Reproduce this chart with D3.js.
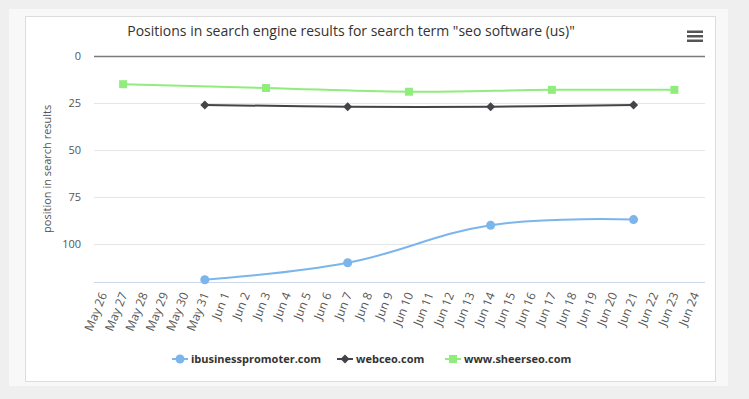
<!DOCTYPE html>
<html>
<head>
<meta charset="utf-8">
<script src="https://cdn.jsdelivr.net/npm/d3@7"></script>
<style>
  body { margin: 0; background: #efefef; }
  svg { display: block; font-family: "Open Sans", sans-serif; }
</style>
</head>
<body>
<div id="chart"></div>
<script>
// Variables
const width = 749;
const height = 399;

const chartTitle = 'Positions in search engine results for search term "seo software (us)"';
const yAxisLabel = 'position in search results';

// Data
const dates = ['May 26', 'May 27', 'May 28', 'May 29', 'May 30', 'May 31',
  'Jun 1', 'Jun 2', 'Jun 3', 'Jun 4', 'Jun 5', 'Jun 6', 'Jun 7', 'Jun 8', 'Jun 9',
  'Jun 10', 'Jun 11', 'Jun 12', 'Jun 13', 'Jun 14', 'Jun 15', 'Jun 16', 'Jun 17',
  'Jun 18', 'Jun 19', 'Jun 20', 'Jun 21', 'Jun 22', 'Jun 23', 'Jun 24'];
const yTicks = [0, 25, 50, 75, 100];

const ibpDates = ['May 31', 'Jun 7', 'Jun 14', 'Jun 21'];
const ibpValues = [119, 110, 90, 87];

const webceoDates = ['May 31', 'Jun 7', 'Jun 14', 'Jun 21'];
const webceoValues = [26, 27, 27, 26];

const sheerDates = ['May 27', 'Jun 3', 'Jun 10', 'Jun 17', 'Jun 23'];
const sheerValues = [15, 17, 19, 18, 18];

const series = [
  { name: 'ibusinesspromoter.com', color: '#7cb5ec', symbol: 'circle', dates: ibpDates, values: ibpValues },
  { name: 'webceo.com', color: '#434348', symbol: 'diamond', dates: webceoDates, values: webceoValues },
  { name: 'www.sheerseo.com', color: '#90ed7d', symbol: 'square', dates: sheerDates, values: sheerValues }
];

const plot = { left: 92.5, right: 705, top: 56, bottom: 281.6 };

const svg = d3.select('#chart')
  .append('svg')
    .attr('width', width)
    .attr('height', height);

// Panels
svg.append('rect')
  .attr('x', 9).attr('y', 9).attr('width', 719).attr('height', 377)
  .attr('fill', '#f8f8f8');
svg.append('rect')
  .attr('x', 25.5).attr('y', 16.5).attr('width', 690).attr('height', 365)
  .attr('fill', '#fff').attr('stroke', '#dcdcdc');

// Scales
const xScale = d3.scalePoint()
  .domain(dates)
  .range([plot.left, plot.right])
  .padding(0.5);

const yScale = d3.scaleLinear()
  .domain([0, 120])
  .range([plot.top, plot.bottom]);

// Title
svg.append('text')
  .attr('x', 351)
  .attr('y', 36)
  .attr('text-anchor', 'middle')
  .attr('font-size', 14)
  .attr('fill', '#333')
  .text(chartTitle);

// Menu icon
svg.append('g').selectAll('rect').data([0, 1, 2]).enter().append('rect')
  .attr('x', 687).attr('y', d => 30.5 + d * 4.5)
  .attr('width', 16).attr('height', 2.5)
  .attr('fill', '#555');

// Grid lines
const grid = svg.append('g');
grid.selectAll('line').data(yTicks).enter().append('line')
  .attr('x1', 94).attr('x2', plot.right)
  .attr('y1', d => Math.round(yScale(d)) + 0.5)
  .attr('y2', d => Math.round(yScale(d)) + 0.5)
  .attr('stroke', d => d === 0 ? '#7a7a7a' : '#e6e6e6')
  .attr('stroke-width', d => d === 0 ? 1.5 : 1);

// Y axis
const yAxis = d3.axisLeft(yScale).tickValues(yTicks).tickSize(0).tickPadding(0);
const yAxisGroup = svg.append('g')
  .attr('transform', 'translate(81, 0)')
  .call(yAxis);
yAxisGroup.select('.domain').remove();
yAxisGroup.selectAll('text')
  .attr('font-size', 11)
  .attr('font-family', '"Open Sans", sans-serif')
  .attr('fill', '#555');

svg.append('text')
  .attr('transform', `translate(51, ${(plot.top + plot.bottom) / 2}) rotate(-90)`)
  .attr('text-anchor', 'middle')
  .attr('font-size', 11)
  .attr('fill', '#555')
  .text(yAxisLabel);

// X axis
const xAxis = d3.axisBottom(xScale).tickSize(0).tickPadding(0);
const xAxisGroup = svg.append('g')
  .attr('transform', `translate(0, ${Math.round(plot.bottom) + 0.5})`)
  .call(xAxis);
xAxisGroup.select('.domain')
  .attr('d', `M94,0H${plot.right}`)
  .attr('stroke', '#ccd6eb');
xAxisGroup.selectAll('text')
  .attr('font-size', 12)
  .attr('font-family', '"Open Sans", sans-serif')
  .attr('fill', '#555')
  .attr('text-anchor', 'end')
  .attr('dy', 0)
  .attr('transform', 'translate(4, 12) rotate(-68)');

// Lines
const lineGen = d3.line()
  .x(d => xScale(d.date))
  .y(d => yScale(d.value))
  .curve(d3.curveCardinal.tension(-0.2));

const symbolPath = symbol => {
  if (symbol === 'circle') return d3.symbol(d3.symbolCircle, Math.PI * 4.5 * 4.5)();
  if (symbol === 'diamond') return 'M0,-4.5L4.5,0L0,4.5L-4.5,0Z';
  return 'M-4,-4H4V4H-4Z';
};

series.forEach(s => {
  const pts = s.dates.map((d, i) => ({ date: d, value: s.values[i] }));
  svg.append('path')
    .datum(pts)
    .attr('d', lineGen)
    .attr('fill', 'none')
    .attr('stroke', s.color)
    .attr('stroke-width', 2)
    .attr('stroke-linejoin', 'round');
  svg.append('g').selectAll('path').data(pts).enter().append('path')
    .attr('transform', d => `translate(${xScale(d.date)}, ${yScale(d.value)})`)
    .attr('d', symbolPath(s.symbol))
    .attr('fill', s.color);
});

// Legend
const legend = svg.append('g').attr('transform', 'translate(0, 359)');
const legendX = [172, 337, 445];
series.forEach((s, i) => {
  const g = legend.append('g').attr('transform', `translate(${legendX[i]}, 0)`);
  g.append('line')
    .attr('x1', 0).attr('x2', 16).attr('y1', 0).attr('y2', 0)
    .attr('stroke', s.color).attr('stroke-width', 2);
  g.append('path')
    .attr('transform', 'translate(8, 0)')
    .attr('d', symbolPath(s.symbol))
    .attr('fill', s.color);
  g.append('text')
    .attr('x', 19)
    .attr('y', 4)
    .attr('font-size', 11)
    .attr('font-weight', 'bold')
    .attr('fill', '#333')
    .text(s.name);
});
</script>
</body>
</html>
